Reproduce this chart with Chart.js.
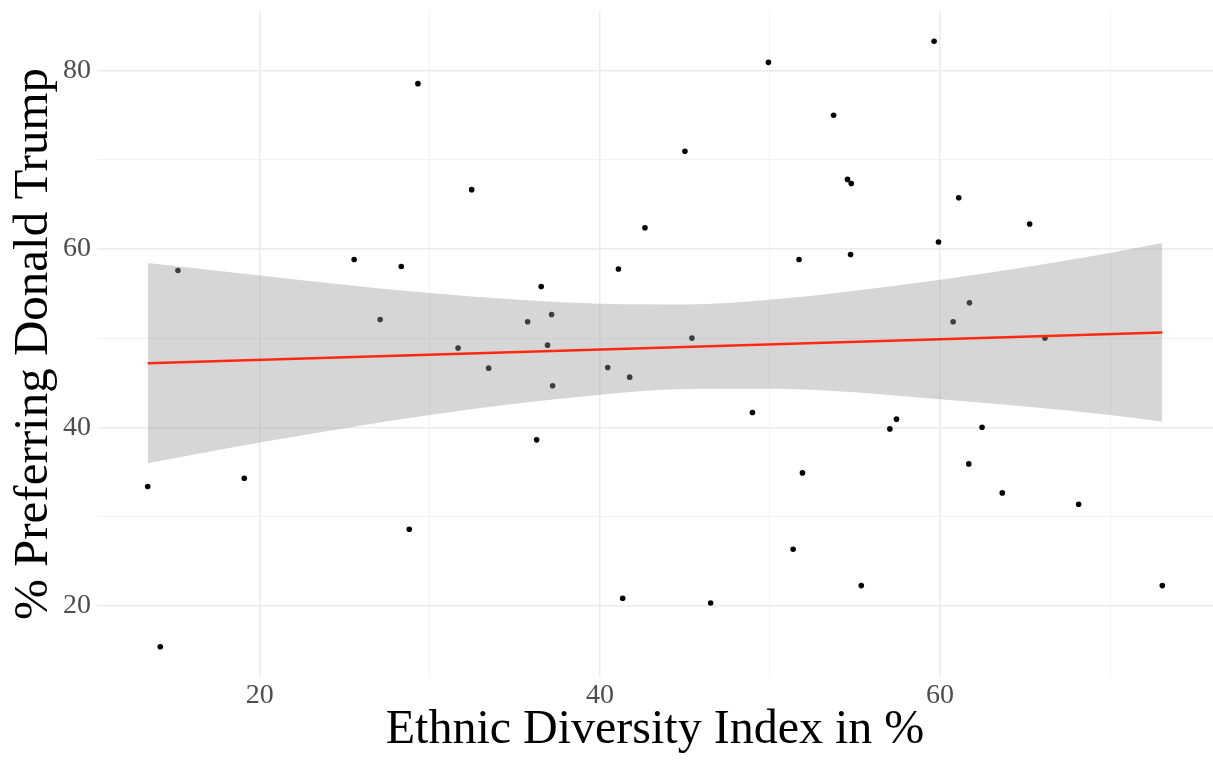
<!DOCTYPE html>
<html>
<head>
<meta charset="utf-8">
<title>Ethnic Diversity and Support for Donald Trump</title>
<script src="https://cdn.jsdelivr.net/npm/chart.js@4/dist/chart.umd.min.js"></script>
<style>
  html, body { margin: 0; padding: 0; background: #ffffff; }
  #wrap { width: 1213px; height: 760px; position: relative; }
</style>
</head>
<body>
<div id="wrap"><canvas id="chart" width="1213" height="760"></canvas></div>
<script>
// Ethnic diversity index (%) for each state
const diversity = [
  13.41, 14.15, 15.19, 19.09, 25.55, 27.08, 28.32, 28.79, 29.30, 31.66,
  32.46, 33.46, 35.75, 36.28, 36.55, 36.92, 37.16, 37.22, 40.46, 41.09,
  41.34, 41.75, 42.65, 45.00, 45.41, 46.51, 48.97, 49.91, 51.36, 51.71,
  51.91, 53.74, 54.56, 54.74, 54.78, 55.37, 57.05, 57.44, 59.65, 59.91,
  60.77, 61.10, 61.69, 61.73, 62.47, 63.66, 65.27, 66.17, 68.15, 73.07
];
// Share preferring Donald Trump (%) for the same states
const trumpShare = [
  33.36, 15.40, 57.60, 34.30, 58.83, 52.10, 58.05, 28.57, 78.55, 48.89,
  66.66, 46.64, 51.84, 38.60, 55.80, 49.22, 52.66, 44.66, 46.71, 57.76,
  20.83, 45.63, 62.39, 70.96, 50.01, 20.30, 41.66, 80.94, 26.33, 58.83,
  34.89, 75.00, 67.81, 59.39, 67.36, 22.25, 39.83, 40.92, 83.30, 60.79,
  51.84, 65.76, 35.90, 53.97, 40.02, 32.65, 62.81, 50.01, 31.38, 22.25
];

// Linear fit and its 95% confidence band
const fitX = [13.41, 73.07];
const fitY = [47.20, 50.65];
const bandX = [13.41, 20, 30, 40, 45, 50, 60, 70, 73.07];
const bandUpper = [58.43, 57.04, 55.06, 53.86, 53.78, 54.31, 56.55, 59.55, 60.67];
const bandLower = [35.98, 38.29, 41.40, 43.65, 44.29, 44.32, 43.16, 41.40, 40.65];

// Axes
const xLimits = [10.43, 76.05];
const yLimits = [12.0, 86.7];
const xTicks = [20, 30, 40, 50, 60, 70];
const yTicks = [20, 30, 40, 50, 60, 70, 80];
const labelledTicks = [20, 40, 60, 80];

const xTitle = 'Ethnic Diversity Index in %';
const yTitle = '% Preferring Donald Trump';

const serif = "'Palatino Linotype', Palatino, 'Book Antiqua', 'Liberation Serif', serif";

const pairs = (xs, ys) => xs.map((x, i) => ({ x: x, y: ys[i] }));

const isMajor = v => labelledTicks.includes(v);
const gridColor = ctx => isMajor(ctx.tick.value) ? '#ebebeb' : '#f2f2f2';
const gridWidth = ctx => isMajor(ctx.tick.value) ? 1.5 : 1;
const tickLabel = v => isMajor(v) ? String(v) : '';

// keep the plotting panel flush with the fixed axis boxes
const noEdgePadding = s => {
  s.paddingTop = 0; s.paddingBottom = 0; s.paddingLeft = 0; s.paddingRight = 0;
};

new Chart(document.getElementById('chart'), {
  type: 'scatter',
  data: {
    datasets: [
      {
        label: 'States',
        data: pairs(diversity, trumpShare),
        backgroundColor: '#000000',
        borderWidth: 0,
        pointRadius: 2.8,
        order: 4
      },
      {
        label: 'Lower bound',
        type: 'line',
        data: pairs(bandX, bandLower),
        borderWidth: 0,
        borderColor: 'rgba(0,0,0,0)',
        pointRadius: 0,
        cubicInterpolationMode: 'monotone',
        fill: false,
        order: 3
      },
      {
        label: 'Upper bound',
        type: 'line',
        data: pairs(bandX, bandUpper),
        borderWidth: 0,
        borderColor: 'rgba(0,0,0,0)',
        backgroundColor: 'rgba(153,153,153,0.4)',
        pointRadius: 0,
        cubicInterpolationMode: 'monotone',
        fill: '-1',
        order: 2
      },
      {
        label: 'Linear fit',
        type: 'line',
        data: pairs(fitX, fitY),
        borderColor: '#ff2a10',
        borderWidth: 2.5,
        pointRadius: 0,
        fill: false,
        order: 1
      }
    ]
  },
  options: {
    responsive: false,
    animation: false,
    devicePixelRatio: 1,
    layout: { autoPadding: false, padding: { top: 11, right: 0, bottom: 0, left: 0 } },
    plugins: {
      legend: { display: false },
      tooltip: { enabled: false },
      filler: { propagate: false }
    },
    scales: {
      x: {
        type: 'linear',
        min: xLimits[0],
        max: xLimits[1],
        afterBuildTicks: s => { s.ticks = xTicks.map(v => ({ value: v })); },
        afterFit: s => { s.height = 83; noEdgePadding(s); },
        border: { display: false },
        grid: { color: gridColor, lineWidth: gridWidth, drawTicks: false },
        ticks: {
          callback: tickLabel,
          color: '#4d4d4d',
          font: { family: serif, size: 28 },
          padding: 2,
          maxRotation: 0,
          autoSkip: false
        },
        title: {
          display: true,
          text: xTitle,
          color: '#000000',
          font: { family: serif, size: 48, lineHeight: 1 },
          padding: { top: 0, bottom: 6 }
        }
      },
      y: {
        type: 'linear',
        min: yLimits[0],
        max: yLimits[1],
        afterBuildTicks: s => { s.ticks = yTicks.map(v => ({ value: v })); },
        afterFit: s => { s.width = 97; noEdgePadding(s); },
        border: { display: false },
        grid: { color: gridColor, lineWidth: gridWidth, drawTicks: false },
        ticks: {
          callback: tickLabel,
          color: '#4d4d4d',
          font: { family: serif, size: 28 },
          padding: 6,
          autoSkip: false
        },
        title: {
          display: true,
          text: yTitle,
          color: '#000000',
          font: { family: serif, size: 49, lineHeight: 1 },
          padding: { top: 10, bottom: 0 }
        }
      }
    }
  }
});
</script>
</body>
</html>
